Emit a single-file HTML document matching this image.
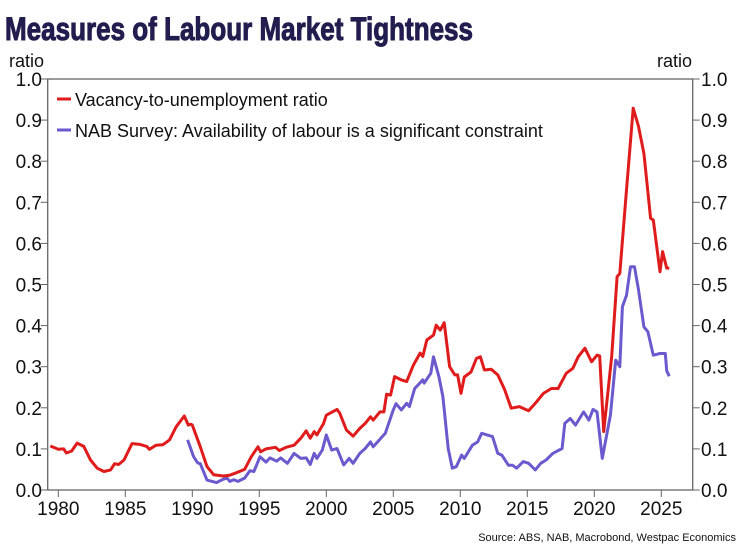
<!DOCTYPE html>
<html><head><meta charset="utf-8"><style>
body{margin:0;width:740px;height:555px;background:#fff;overflow:hidden;font-family:"Liberation Sans",sans-serif}
</style></head><body>
<svg id="c" width="740" height="555" xmlns="http://www.w3.org/2000/svg">
<text x="5" y="40" font-family="'Liberation Sans Narrow','Liberation Sans',sans-serif" font-weight="bold" font-size="32" fill="#221d4f" stroke="#221d4f" stroke-width="1" textLength="468" lengthAdjust="spacingAndGlyphs">Measures of Labour Market Tightness</text>
<text x="9" y="67" font-size="18" fill="#111">ratio</text>
<text x="692" y="67" font-size="18" fill="#111" text-anchor="end">ratio</text>
<g id="axes"></g>
<g id="series"></g>
<g>
<line x1="57" y1="99" x2="71" y2="99" stroke="#e01b1b" stroke-width="3"/>
<text x="75" y="106" font-size="18" fill="#111">Vacancy-to-unemployment ratio</text>
<line x1="57" y1="130" x2="71" y2="130" stroke="#6a5acd" stroke-width="3"/>
<text x="75" y="137" font-size="18" fill="#111">NAB Survey: Availability of labour is a significant constraint</text>
</g>
<text x="736" y="541" font-size="11" fill="#111" text-anchor="end">Source: ABS, NAB, Macrobond, Westpac Economics</text>
</svg>
<script>
const yTicks=[0,0.1,0.2,0.3,0.4,0.5,0.6,0.7,0.8,0.9,1.0];
const xTicks=[1980,1985,1990,1995,2000,2005,2010,2015,2020,2025];
const vacYears=[1979.4,1980.0,1980.4,1980.6,1981.0,1981.4,1981.9,1982.4,1982.9,1983.4,1983.9,1984.2,1984.5,1984.9,1985.5,1986.1,1986.6,1986.8,1987.3,1987.8,1988.3,1988.8,1989.4,1989.7,1989.9,1990.0,1990.6,1991.1,1991.6,1992.3,1992.8,1993.3,1993.9,1994.4,1994.9,1995.1,1995.5,1996.2,1996.5,1997.0,1997.6,1998.1,1998.5,1998.8,1999.1,1999.3,1999.8,2000.0,2000.8,2001.0,2001.5,2002.0,2002.5,2002.9,2003.3,2003.5,2004.0,2004.3,2004.5,2004.8,2005.1,2005.6,2006.0,2006.5,2007.0,2007.2,2007.5,2008.0,2008.2,2008.5,2008.8,2009.2,2009.6,2009.8,2010.05,2010.3,2010.8,2011.2,2011.5,2011.8,2012.3,2012.8,2013.3,2013.8,2014.4,2015.1,2015.6,2016.2,2016.8,2017.3,2017.9,2018.4,2018.8,2019.3,2019.8,2020.2,2020.4,2020.7,2021.3,2021.7,2021.9,2022.4,2022.9,2023.3,2023.7,2024.2,2024.4,2024.9,2025.1,2025.4,2025.6];
const vacValues=[0.107,0.099,0.10,0.09,0.095,0.114,0.106,0.073,0.053,0.045,0.049,0.064,0.062,0.073,0.113,0.111,0.106,0.099,0.109,0.11,0.122,0.154,0.18,0.158,0.16,0.158,0.105,0.057,0.037,0.034,0.036,0.042,0.05,0.081,0.105,0.093,0.10,0.104,0.096,0.104,0.109,0.126,0.144,0.126,0.142,0.134,0.162,0.182,0.196,0.187,0.146,0.131,0.15,0.162,0.178,0.17,0.19,0.19,0.233,0.231,0.276,0.268,0.264,0.304,0.333,0.325,0.365,0.377,0.401,0.389,0.407,0.30,0.28,0.28,0.235,0.275,0.287,0.32,0.324,0.292,0.294,0.28,0.245,0.199,0.203,0.193,0.211,0.235,0.247,0.247,0.284,0.296,0.324,0.345,0.312,0.328,0.326,0.142,0.325,0.519,0.527,0.73,0.929,0.885,0.819,0.661,0.657,0.531,0.58,0.54,0.54];
const nabYears=[1989.65,1990.1,1990.4,1990.6,1991.1,1991.8,1992.3,1992.6,1992.8,1993.1,1993.4,1993.9,1994.3,1994.6,1995.05,1995.5,1995.8,1996.3,1996.6,1997.1,1997.6,1998.1,1998.5,1998.8,1999.1,1999.3,1999.7,2000.0,2000.4,2000.8,2001.3,2001.7,2002.0,2002.5,2002.9,2003.3,2003.5,2003.9,2004.4,2005.0,2005.2,2005.6,2006.0,2006.2,2006.6,2007.2,2007.3,2007.8,2008.0,2008.4,2008.7,2009.1,2009.4,2009.7,2010.1,2010.3,2010.9,2011.3,2011.6,2012.4,2012.8,2013.1,2013.6,2013.9,2014.2,2014.7,2015.1,2015.6,2016.0,2016.4,2016.9,2017.6,2017.8,2018.2,2018.6,2019.2,2019.6,2019.9,2020.2,2020.6,2021.2,2021.6,2021.9,2022.1,2022.4,2022.7,2023.0,2023.3,2023.7,2024.0,2024.4,2024.9,2025.3,2025.4,2025.6];
const nabValues=[0.122,0.081,0.066,0.064,0.024,0.018,0.026,0.029,0.021,0.025,0.021,0.029,0.047,0.045,0.081,0.068,0.078,0.07,0.078,0.065,0.089,0.077,0.078,0.062,0.089,0.077,0.097,0.134,0.097,0.101,0.061,0.077,0.065,0.089,0.101,0.117,0.105,0.12,0.138,0.195,0.21,0.195,0.211,0.203,0.247,0.268,0.26,0.284,0.324,0.276,0.227,0.101,0.053,0.057,0.085,0.077,0.109,0.117,0.138,0.13,0.089,0.085,0.06,0.06,0.053,0.069,0.065,0.049,0.065,0.073,0.089,0.101,0.162,0.174,0.158,0.19,0.17,0.196,0.19,0.077,0.182,0.316,0.30,0.446,0.474,0.543,0.543,0.487,0.397,0.385,0.328,0.332,0.332,0.29,0.277];

const NS='http://www.w3.org/2000/svg';
const L=47.7,R=692.7,T=79,B=490;
const x=yr=>58.3+(yr-1980)*13.4;
const y=v=>B-v*(B-T);
function mk(tag,attrs,parent){const e=document.createElementNS(NS,tag);for(const k in attrs)e.setAttribute(k,attrs[k]);parent.appendChild(e);return e;}
const ax=document.getElementById('axes');
const box=mk('rect',{x:L,y:T,width:R-L,height:B-T,fill:'none',stroke:'#666','stroke-width':1.3},ax);


yTicks.forEach(v=>{
  const t1=mk('line',{x1:L-7,x2:L,y1:y(v),y2:y(v),stroke:'#666'},ax);
  
  
  const t2=mk('line',{x1:R,x2:R+7,y1:y(v),y2:y(v),stroke:'#666'},ax);
  
  
  const l1=mk('text',{x:42,y:y(v)+7,'text-anchor':'end','font-size':19,fill:'#111'},ax);
  l1.textContent=v.toFixed(1);
  
  
  const l2=mk('text',{x:701,y:y(v)+7,'font-size':19,fill:'#111'},ax);
  l2.textContent=v.toFixed(1);
  
  
});
xTicks.forEach(yr=>{
  const t=mk('line',{x1:x(yr),x2:x(yr),y1:B,y2:B+7,stroke:'#666'},ax);
  
  
  const l=mk('text',{x:x(yr),y:B+25,'text-anchor':'middle','font-size':19,fill:'#111'},ax);
  l.textContent=yr;
  
  
});
const sg=document.getElementById('series');
function line(xs,vs,color,name){
  const d=xs.map((yr,i)=>(i?'L':'M')+x(yr).toFixed(1)+','+y(vs[i]).toFixed(1)).join('');
  const p=mk('path',{d:d,fill:'none',stroke:color,'stroke-width':3,'stroke-linejoin':'round'},sg);
  
  
}
line(nabYears,nabValues,'#6a5acd','nab-labour-constraint-line');
line(vacYears,vacValues,'#e01b1b','vacancy-unemployment-line');
</script>
</body></html>
